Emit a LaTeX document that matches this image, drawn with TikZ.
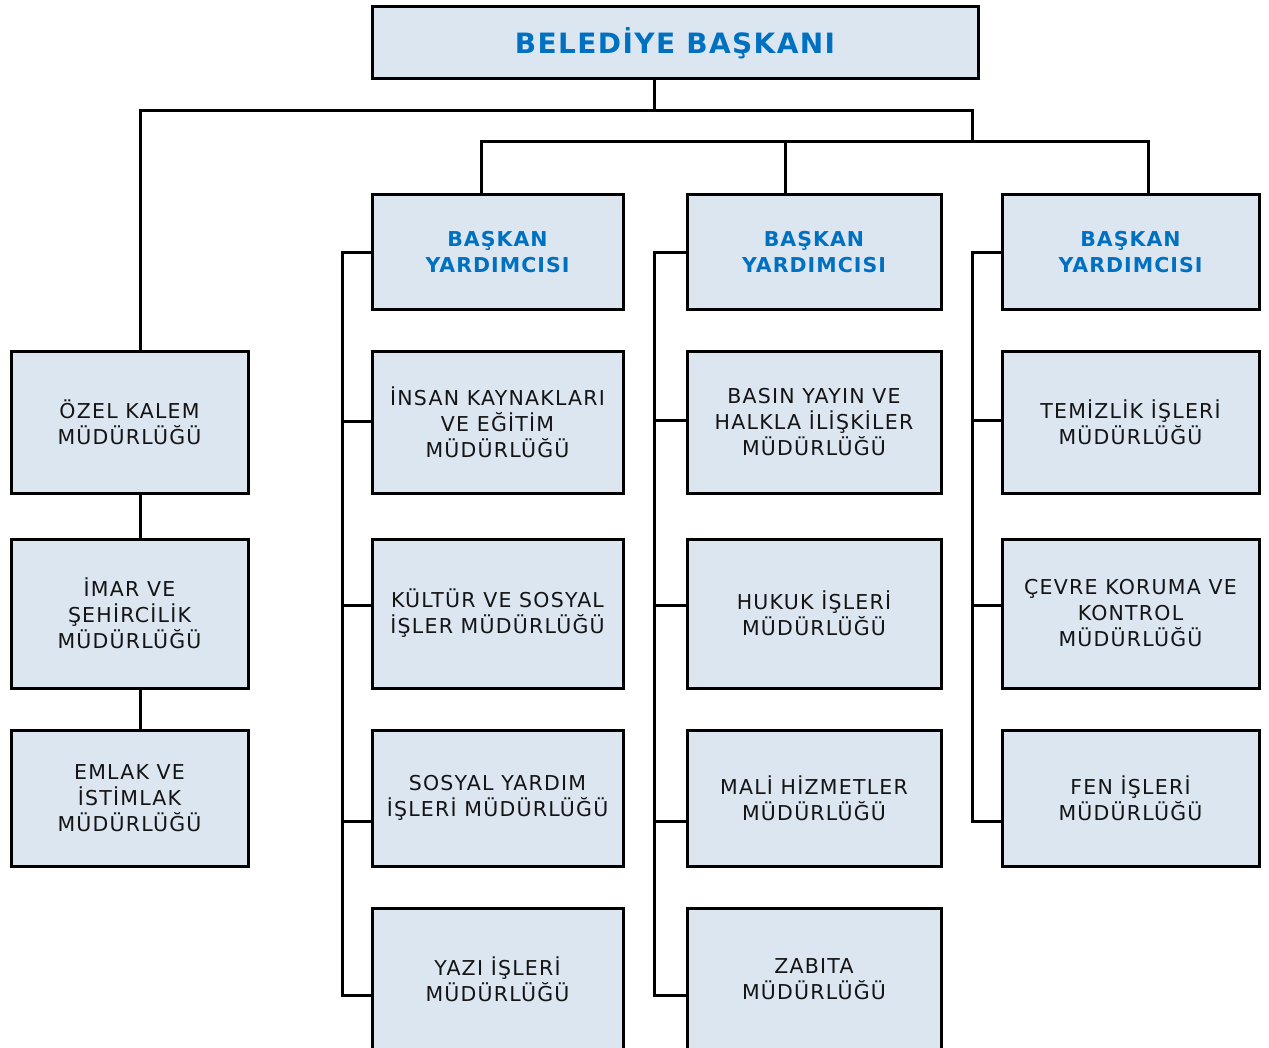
\documentclass[tikz,border=0pt]{standalone}
\usepackage{fontspec}
\newfontfamily\boxfont{DejaVu Sans}[LetterSpace=6]
\newfontfamily\boldfont{DejaVu Sans Bold}[LetterSpace=5]
\definecolor{boxfill}{HTML}{DCE6F1}
\definecolor{headblue}{HTML}{0070C0}
\tikzset{
  unit/.style={draw=black, line width=3pt, fill=boxfill, rectangle, inner sep=0pt, align=center,
    font=\boxfont\fontsize{20.5}{26}\selectfont, text=black!92},
  vp/.style={unit, font=\boldfont\fontsize{20.5}{26}\selectfont, text=headblue},
  head/.style={unit, font=\boldfont\fontsize{28}{32}\selectfont, text=headblue},
  wire/.style={draw=black, line width=3pt},
}
\newcommand\ubox[7]{\node[#1, minimum width={#4-#2}, minimum height={#5-#3}] (#6) at ({(#2+#4)/2},{(#3+#5)/2}) {#7};}
\begin{document}
\begin{tikzpicture}[x=1pt,y=-1pt]
\useasboundingbox (0,0) rectangle (1269,1048);
\coordinate (t0) at (654,111);
\coordinate (t1) at (972,142);
\ubox{head}{372}{7}{978}{79}{top}{BELEDİYE BAŞKANI}
\ubox{vp}{372}{195}{623}{310}{vpa}{BAŞKAN\\YARDIMCISI}
\ubox{vp}{687}{195}{941}{310}{vpb}{BAŞKAN\\YARDIMCISI}
\ubox{vp}{1002}{195}{1259}{310}{vpc}{BAŞKAN\\YARDIMCISI}
\ubox{unit}{11}{352}{248}{493}{ozel}{ÖZEL KALEM\\MÜDÜRLÜĞÜ}
\ubox{unit}{11}{539}{248}{688}{imar}{İMAR VE\\ŞEHİRCİLİK\\MÜDÜRLÜĞÜ}
\ubox{unit}{11}{730}{248}{866}{emlak}{EMLAK VE\\İSTİMLAK\\MÜDÜRLÜĞÜ}
\ubox{unit}{372}{352}{623}{493}{ik}{İNSAN KAYNAKLARI\\VE EĞİTİM\\MÜDÜRLÜĞÜ}
\ubox{unit}{372}{539}{623}{688}{kultur}{KÜLTÜR VE SOSYAL\\İŞLER MÜDÜRLÜĞÜ}
\ubox{unit}{372}{730}{623}{866}{sosyal}{SOSYAL YARDIM\\İŞLERİ MÜDÜRLÜĞÜ}
\ubox{unit}{372}{908}{623}{1050}{yazi}{YAZI İŞLERİ\\MÜDÜRLÜĞÜ}
\ubox{unit}{687}{352}{941}{493}{basin}{BASIN YAYIN VE\\HALKLA İLİŞKİLER\\MÜDÜRLÜĞÜ}
\ubox{unit}{687}{539}{941}{688}{hukuk}{HUKUK İŞLERİ\\MÜDÜRLÜĞÜ}
\ubox{unit}{687}{730}{941}{866}{mali}{MALİ HİZMETLER\\MÜDÜRLÜĞÜ}
\ubox{unit}{687}{908}{941}{1050}{zabita}{ZABITA\\MÜDÜRLÜĞÜ}
\ubox{unit}{1002}{352}{1259}{493}{temiz}{TEMİZLİK İŞLERİ\\MÜDÜRLÜĞÜ}
\ubox{unit}{1002}{539}{1259}{688}{cevre}{ÇEVRE KORUMA VE\\KONTROL\\MÜDÜRLÜĞÜ}
\ubox{unit}{1002}{730}{1259}{866}{fen}{FEN İŞLERİ\\MÜDÜRLÜĞÜ}
\draw[wire] (top.south -| t0) -- (t0) -| (ozel.north -| 140,0);
\draw[wire] (t0) -| (t1);
\draw[wire] (vpa.north -| 481,0) |- (t1) -| (vpc.north -| 1148,0);
\draw[wire] (t1 -| 785,0) -- (vpb.north -| 785,0);
\draw[wire] (ozel.south -| 140,0) -- (imar.north -| 140,0);
\draw[wire] (imar.south -| 140,0) -- (emlak.north -| 140,0);
\foreach \v/\x/\last in {vpa/342/yazi, vpb/654/zabita, vpc/972/fen}{
  \pgfmathsetmacro\ylast{ifthenelse(\x==972,821,995)}
  \draw[wire] (\v.west) -| (\x,\ylast) -- (\last.west |- 0,\ylast);
}
\foreach \b/\x/\y in {ik/342/421, kultur/342/605, sosyal/342/821, basin/654/420, hukuk/654/605, mali/654/821, temiz/972/420, cevre/972/605}{
  \draw[wire] (\x,\y) -- (\b.west |- 0,\y);
}
\end{tikzpicture}
\end{document}
